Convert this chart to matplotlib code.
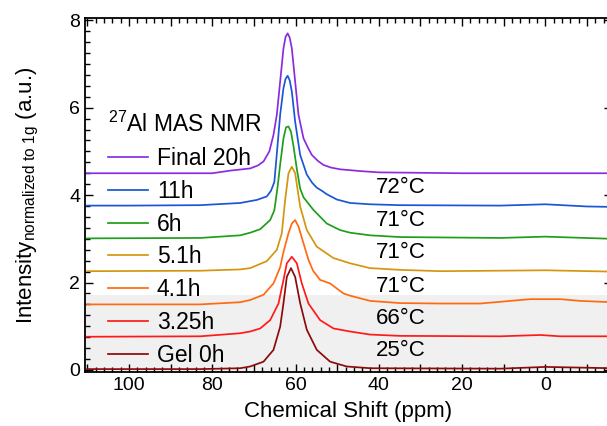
import matplotlib
matplotlib.use("Agg")
import matplotlib.pyplot as plt
from matplotlib.ticker import MultipleLocator, FuncFormatter

plt.rcParams['font.family'] = ['Liberation Sans', 'DejaVu Sans']
plt.rcParams['mathtext.fontset'] = 'custom'
plt.rcParams['mathtext.rm'] = 'Liberation Sans'
plt.rcParams['mathtext.it'] = 'Liberation Sans:italic'

# --- data (ppm, intensity) ---
labels = ['Final 20h', '11h', '6h', '5.1h', '4.1h', '3.25h', 'Gel 0h']
temps = [None, '72°C', '71°C', '71°C', '71°C', '66°C', '25°C']
colors = ['#8a2be2', '#1a56d6', '#1f9e1a', '#d4960f', '#ff6a10', '#ff1a1a', '#8b0a0a']

ppm_20h = [110.6, 100, 80, 75.7, 70.9, 69.0, 67.7, 66.3, 65.3, 64.5, 63.7, 62.9, 62.4, 61.9,
           61.4, 60.9, 60.1, 59.3, 58.1, 57.0, 56.1, 54.6, 53.3, 51.5, 49.3, 44.5, 40, 20, 0, -16]
int_20h = [4.50, 4.50, 4.50, 4.56, 4.61, 4.68, 4.77, 5.00, 5.38, 5.84, 6.60, 7.36, 7.62, 7.70,
           7.60, 7.36, 6.60, 5.84, 5.30, 5.08, 4.92, 4.78, 4.69, 4.63, 4.59, 4.55, 4.52, 4.50, 4.50, 4.50]

ppm_11h = [110.1, 100, 82.9, 73.3, 69.3, 66.9, 65.9, 65.1, 64.5, 63.7, 62.9, 62.4, 61.9,
           61.4, 60.9, 60.1, 58.9, 57.3, 56.0, 54.9, 53.7, 52.5, 50.1, 46.9, 42.1, 34.9, 10.8,
           0, -10, -16]
int_11h = [3.76, 3.76, 3.77, 3.82, 3.89, 3.97, 4.10, 4.30, 4.95, 5.84, 6.45, 6.66, 6.73,
           6.62, 6.37, 5.68, 4.92, 4.47, 4.28, 4.17, 4.10, 4.02, 3.90, 3.82, 3.79, 3.77, 3.76,
           3.79, 3.74, 3.73]

ppm_6h = [110.1, 82.9, 73.3, 70.9, 68.5, 66.1, 65.1, 64.3, 63.7, 62.9, 62.3, 61.7,
          61.1, 60.5, 59.7, 58.9, 58.1, 55.7, 52.5, 49.3, 46.9, 42.1, 34.9, 10.8, 0, -16]
int_6h = [3.01, 3.02, 3.08, 3.14, 3.22, 3.43, 3.65, 4.20, 4.70, 5.30, 5.55, 5.57,
          5.45, 5.12, 4.60, 4.15, 3.95, 3.66, 3.35, 3.20, 3.14, 3.08, 3.04, 3.02, 3.05, 3.00]

ppm_5h = [110.1, 82.9, 73.3, 70.9, 66.9, 64.5, 63.3, 62.5, 61.7, 60.9, 60.1, 58.9,
          57.3, 54.9, 50.9, 46.9, 42.1, 34.9, 25.2, 0, -16]
int_5h = [2.26, 2.27, 2.30, 2.33, 2.49, 2.75, 3.13, 3.89, 4.50, 4.65, 4.50, 3.74,
          3.20, 2.82, 2.56, 2.44, 2.33, 2.29, 2.26, 2.28, 2.25]

ppm_4h = [110.1, 82.9, 73.3, 70.9, 67.7, 65.3, 63.7, 62.9, 61.7, 60.9, 60.1, 59.3,
          58.1, 56.9, 55.8, 54.1, 51.7, 48.5, 46.9, 42.1, 34.9, 25.2, 15.6, 8.4, 3.6,
          -3.6, -8.4, -16]
int_4h = [1.50, 1.50, 1.55, 1.60, 1.72, 1.98, 2.35, 2.70, 3.13, 3.35, 3.43, 3.28,
          2.90, 2.52, 2.27, 2.06, 1.98, 1.75, 1.70, 1.58, 1.53, 1.52, 1.52, 1.58, 1.62,
          1.62, 1.58, 1.55]

ppm_3h = [110.1, 82.9, 73.3, 70.9, 68.5, 66.1, 64.1, 62.9, 62.1, 60.9, 59.7, 58.5,
          56.9, 54.1, 50.9, 46.9, 42.1, 34.9, 10.8, 1.2, -3.6, -16]
int_3h = [0.76, 0.77, 0.84, 0.88, 0.95, 1.14, 1.52, 2.06, 2.44, 2.59, 2.44, 1.98,
          1.52, 1.14, 0.95, 0.88, 0.81, 0.78, 0.77, 0.80, 0.77, 0.77]

ppm_0h = [110.1, 82.9, 73.3, 70.9, 67.7, 65.3, 63.7, 62.9, 62.1, 61.1, 60.1, 58.9,
          57.3, 54.9, 51.7, 47.7, 42.1, 10.8, 0, -16]
int_0h = [0.02, 0.02, 0.04, 0.08, 0.19, 0.46, 0.99, 1.53, 2.13, 2.33, 2.13, 1.53,
          0.92, 0.46, 0.19, 0.08, 0.04, 0.03, 0.07, 0.04]

spectra = [(ppm_20h, int_20h), (ppm_11h, int_11h), (ppm_6h, int_6h), (ppm_5h, int_5h),
           (ppm_4h, int_4h), (ppm_3h, int_3h), (ppm_0h, int_0h)]

shade_top = 1.72

fig = plt.figure(figsize=(6.07, 4.26), dpi=100)
ax = fig.add_axes([0.140, 0.1268, 0.868, 0.8298])

ax.axhspan(-1, shade_top, color='#f0f0f0', zorder=0, lw=0)

for (x, y), lab, c in zip(spectra, labels, colors):
    ax.plot(x, y, color=c, lw=1.25, label=lab)

ax.set_xlim(110.6, -16)
ax.set_ylim(-0.046, 8.04)

# temperature labels sit just above each baseline
for (x, y), t in zip(spectra, temps):
    if t is None:
        continue
    ax.text(40.6, y[0] + 0.42, t, fontsize=16, va='center', ha='left')

leg = ax.legend(loc='upper left', bbox_to_anchor=(0.043, 0.736), frameon=False,
                fontsize=16.5, title=r'$^{27}$Al MAS NMR', title_fontsize=16.5,
                handlelength=1.75, handletextpad=0.4, labelspacing=0.43,
                borderpad=0, borderaxespad=0, alignment='left')

ax.xaxis.set_major_locator(MultipleLocator(10))
ax.xaxis.set_minor_locator(MultipleLocator(2))
ax.xaxis.set_major_formatter(FuncFormatter(lambda v, p: f"{int(round(v))}" if round(v) % 20 == 0 else ""))
ax.yaxis.set_major_locator(MultipleLocator(2))
ax.yaxis.set_minor_locator(MultipleLocator(0.25))
ax.tick_params(which='both', direction='in', top=True, right=True, labelsize=14, width=1)
ax.tick_params(which='major', length=6)
ax.tick_params(which='minor', length=3.5)
for s in ax.spines.values():
    s.set_linewidth(1.3)

ax.set_xlabel('Chemical Shift (ppm)', fontsize=16, labelpad=5)
ax.set_ylabel(r'Intensity$_{\mathrm{normalized\ to\ 1g}}$ (a.u.)', fontsize=16, labelpad=20)

fig.savefig('out.png', dpi=100)
